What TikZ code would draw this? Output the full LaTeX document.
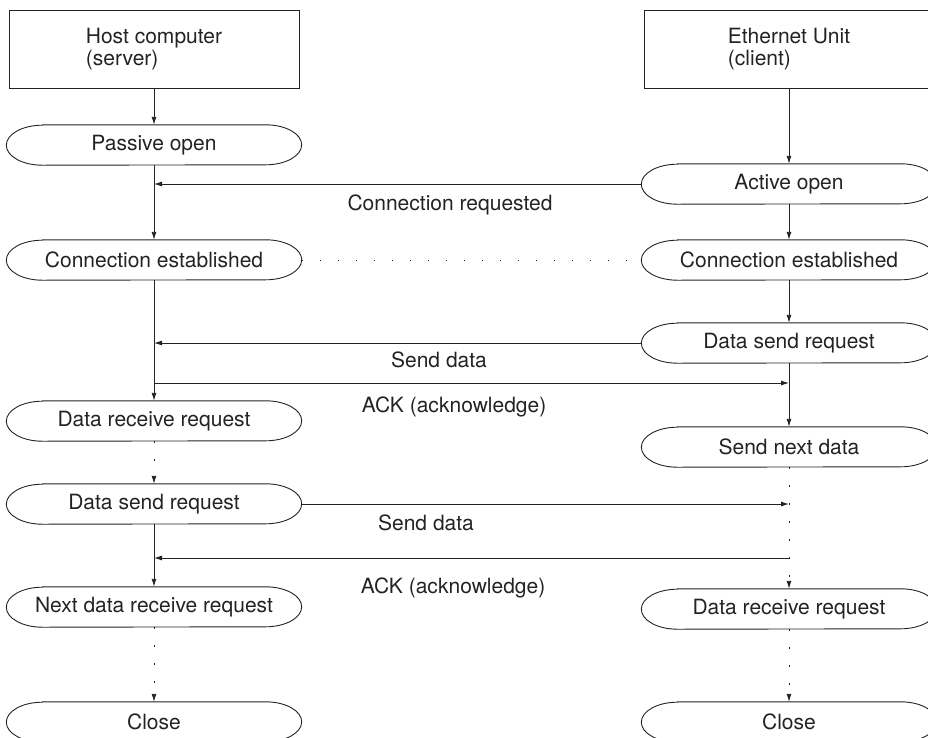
\documentclass[tikz,border=0pt]{standalone}
\usepackage{fontspec}
\setmainfont{TeX Gyre Heros}
\usepackage{tikz}
\usetikzlibrary{arrows.meta}
\definecolor{inkgray}{RGB}{35, 35, 35}

\begin{document}
\begin{tikzpicture}[x=1pt, y=-1pt]
\tikzset{
  unitbox/.style={rectangle, draw=inkgray, line width=1pt, minimum width=290pt, minimum height=78pt,
    align=left, text=inkgray, font=\fontsize{21}{22}\selectfont},
  proc/.style={rectangle, minimum width=295pt, minimum height=40pt, inner sep=0pt,
    text=inkgray, font=\fontsize{21}{22}\selectfont},
  fl/.style={-{Latex[length=8pt, width=5pt]}, draw=inkgray, line width=0.9pt},
  dotfl/.style={fl, dash pattern=on 1.5pt off 16.5pt},
  dotline/.style={draw=inkgray, line width=0.9pt, dash pattern=on 1.5pt off 16.5pt},
  lbl/.style={text=inkgray, font=\fontsize{21}{22}\selectfont, inner sep=0pt}
}
\useasboundingbox (0,0) rectangle (928,737);
\node[unitbox] (host)  at (154, 49) {Host computer\\(server)};
\node[unitbox] (ether) at (789, 49) {Ethernet Unit\\(client)};
\node[proc] (passive) at (154, 145) {Passive open};
\node[proc] (active)  at (789, 184) {Active open};
\node[proc] (connL)   at (154, 260) {Connection established};
\node[proc] (connR)   at (789, 260) {Connection established};
\node[proc] (sendR)   at (789, 343) {Data send request};
\node[proc] (recvL)   at (154, 421) {Data receive request};
\node[proc] (nextR)   at (789, 447) {Send next data};
\node[proc] (sendL)   at (154, 504) {Data send request};
\node[proc] (nextL)   at (154, 607) {Next data receive request};
\node[proc] (recvR)   at (789, 609) {Data receive request};
\node[proc] (closeL)  at (154, 722) {Close};
\node[proc] (closeR)  at (789, 722) {Close};
% pill outlines with flat elliptic ends
\foreach \n in {passive,active,connL,connR,sendR,recvL,nextR,sendL,nextL,recvR,closeL,closeR}
  \draw[draw=inkgray, line width=0.9pt] ([xshift=36pt]\n.north west) -- ([xshift=-36pt]\n.north east)
    arc[start angle=90, end angle=-90, x radius=36pt, y radius=20pt]
    -- ([xshift=36pt]\n.south west)
    arc[start angle=270, end angle=90, x radius=36pt, y radius=20pt] -- cycle;
\coordinate (reqEnd)    at (154, 184);
\coordinate (sd1End)    at (154, 343);
\coordinate (ack1Start) at (154, 383);
\coordinate (ack1End)   at (789, 383);
\coordinate (sd2End)    at (789, 504);
\coordinate (ack2Start) at (789, 558);
\coordinate (ack2End)   at (154, 558);
\draw[fl] (host) -- (passive);
\draw[fl] (ether) -- (active);
\draw[fl] (passive) -- (connL);
\draw[fl] (active) -- (connR);
\draw[fl] (active.west) -- (reqEnd);
\draw[dotline] (connL) -- (connR);
\draw[fl] (connR) -- (sendR);
\draw[fl] (connL) -- (recvL);
\draw[fl] (sendR.west) -- (sd1End);
\draw[fl] (ack1Start) -- (ack1End);
\draw[fl] (sendR) -- (nextR);
\draw[dotfl] (recvL) -- (sendL);
\draw[fl] (sendL.east) -- (sd2End);
\draw[dotfl] (nextR) -- (recvR);
\draw[fl] (ack2Start) -- (ack2End);
\draw[fl] (sendL) -- (nextL);
\draw[dotfl] (nextL) -- (closeL);
\draw[dotfl] (recvR) -- (closeR);
\node[lbl] (lreq)   at (450, 205) {Connection requested};
\node[lbl] (lsend1) at (439, 360) {Send data};
\node[lbl] (lack1)  at (454, 407) {ACK (acknowledge)};
\node[lbl] (lsend2) at (426, 523) {Send data};
\node[lbl] (lack2)  at (453, 588) {ACK (acknowledge)};
\end{tikzpicture}
\end{document}
